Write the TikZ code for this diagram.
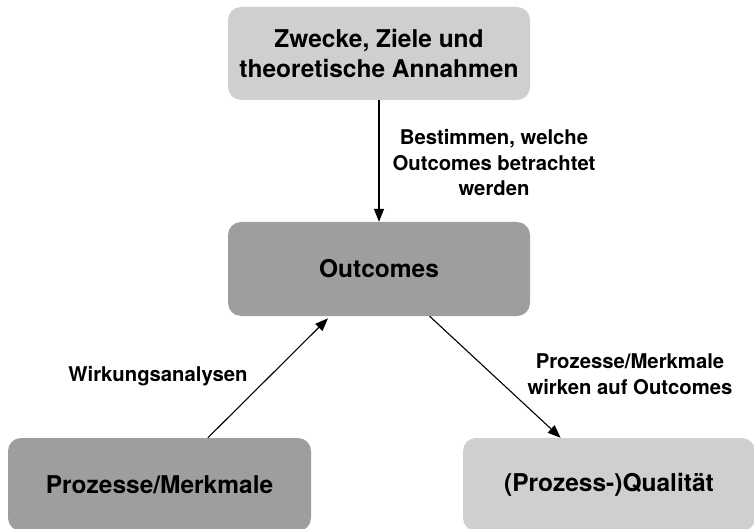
\documentclass[tikz,border=0pt]{standalone}
\usepackage{fontspec}
\setmainfont{TeX Gyre Heros}
\usetikzlibrary{arrows.meta}

\definecolor{boxlight}{RGB}{207,207,207}
\definecolor{boxdark}{RGB}{158,158,158}

\tikzset{
    box/.style={rounded corners=13pt, inner sep=0pt, align=center,
        font=\fontsize{24.5}{30}\selectfont\bfseries},
    lightbox/.style={box, fill=boxlight},
    darkbox/.style={box, fill=boxdark},
    edgelabel/.style={align=center, inner sep=0pt,
        font=\fontsize{20.3}{25.5}\selectfont\bfseries},
    flow/.style={draw=black, line width=1.1pt,
        -{Triangle[length=13pt,width=10pt]}}
}

\begin{document}
\begin{tikzpicture}[x=1pt, y=-1pt]
        \useasboundingbox (0,0) rectangle (754,529);
        \clip (0,0) rectangle (754,529);

        % place nodes
        \node[lightbox, minimum width=302pt, minimum height=93pt] at (379, 53.5) (zwecke) {Zwecke, Ziele und\\theoretische Annahmen};
        \node[darkbox, minimum width=302pt, minimum height=94pt] at (379, 269) (outcomes) {Outcomes};
        \node[darkbox, minimum width=303pt, minimum height=93pt] at (159.5, 484.5) (merkmale) {Prozesse/Merkmale};
        \node[lightbox, minimum width=292pt, minimum height=93pt] at (609, 484.5) (qualitaet) {(Prozess-)Qualit\"at};

        \node[edgelabel] at (494, 163) (bestimmen) {Bestimmen, welche\\Outcomes betrachtet\\werden};
        \node[edgelabel] at (158, 376) (wirkung) {Wirkungsanalysen};
        \node[edgelabel] at (630, 374) (wirken) {Prozesse/Merkmale\\wirken auf Outcomes};

        % draw edges
        \draw[flow] (zwecke.south) -- (outcomes.north);
        \draw[flow, shorten >=3pt] (merkmale.44) -- (outcomes.224);
        \draw[flow] (outcomes.-43) -- (qualitaet.136);
    \end{tikzpicture}
\end{document}
